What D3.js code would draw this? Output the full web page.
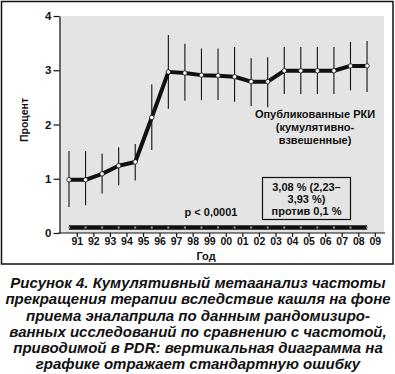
<!DOCTYPE html>
<html>
<head>
<meta charset="utf-8">
<script src="https://cdn.jsdelivr.net/npm/d3@7"></script>
<style>
  body { margin: 0; background: #fff; }
  svg { display: block; font-family: "Liberation Sans", Arial, sans-serif; }
</style>
</head>
<body>
<div id="chart"></div>
<script>
// данные
const years = ["91", "92", "93", "94", "95", "96", "97", "98", "99", "00",
  "01", "02", "03", "04", "05", "06", "07", "08", "09"];
const rctValues = [0.98, 0.98, 1.09, 1.24, 1.31, 2.13, 2.97, 2.95, 2.91, 2.90,
  2.88, 2.79, 2.79, 2.99, 2.99, 2.99, 2.99, 3.08, 3.08];
const seUpper = [1.51, 1.51, 1.46, 1.58, 1.64, 2.74, 3.65, 3.49, 3.40, 3.40,
  3.43, 3.22, 3.24, 3.43, 3.43, 3.43, 3.43, 3.52, 3.54];
const seLower = [0.48, 0.51, 0.73, 0.88, 0.97, 1.53, 2.29, 2.44, 2.45, 2.45,
  2.42, 2.34, 2.32, 2.56, 2.56, 2.56, 2.56, 2.63, 2.60];
const pdrValues = [0.1, 0.1, 0.1, 0.1, 0.1, 0.1, 0.1, 0.1, 0.1, 0.1,
  0.1, 0.1, 0.1, 0.1, 0.1, 0.1, 0.1, 0.1, 0.1];
const yTicks = [0, 1, 2, 3, 4];

const rctLabel = ["Опубликованные РКИ", "(кумулятивно-", "взвешенные)"];
const boxLabel = ["3,08 % (2,23–", "3,93 %)", "против 0,1 %"];
const pLabel = "p < 0,0001";
const caption = [
  "Рисунок 4. Кумулятивный метаанализ частоты",
  "прекращения терапии вследствие кашля на фоне",
  "приема эналаприла по данным рандомизиро-",
  "ванных исследований по сравнению с частотой,",
  "приводимой в PDR: вертикальная диаграмма на",
  "графике отражает стандартную ошибку"
];

// размеры
const W = 395, H = 374;
const plot = { left: 59.5, right: 384, top: 16, bottom: 233 };

const svg = d3.select("#chart").append("svg")
  .attr("width", W)
  .attr("height", H);

// рамка
svg.append("rect")
  .attr("x", 1.5).attr("y", 1.5)
  .attr("width", 391.5).attr("height", 262.5)
  .attr("fill", "none")
  .attr("stroke", "#111")
  .attr("stroke-width", 1.5);

// шкалы
const x = d3.scaleBand()
  .domain(years)
  .range([69, 383.6])
  .padding(0);

const y = d3.scaleLinear()
  .domain([0, 4])
  .range([plot.bottom, plot.top]);

// серый фон
svg.append("rect")
  .attr("x", plot.left)
  .attr("y", plot.top)
  .attr("width", plot.right - plot.left)
  .attr("height", plot.bottom - plot.top)
  .attr("fill", "#e4e4e4");

// ось Y
svg.append("g")
  .attr("transform", `translate(${plot.left},0)`)
  .call(d3.axisLeft(y).tickValues(yTicks).tickFormat(d3.format("d")).tickSize(6).tickSizeOuter(0))
  .call(g => g.selectAll("line, path").attr("stroke", "#111").attr("stroke-width", 1.2))
  .call(g => g.selectAll("text")
    .attr("x", -8)
    .style("font-size", "11.5px")
    .style("font-weight", "bold")
    .attr("fill", "#111"));

// ось X
svg.append("g")
  .attr("transform", `translate(0,${plot.bottom})`)
  .call(d3.axisBottom(x).tickSize(4).tickSizeOuter(0))
  .call(g => g.select(".domain").remove())
  .call(g => g.selectAll("line").attr("stroke", "#111").attr("stroke-width", 1.2))
  .call(g => g.selectAll("text")
    .attr("y", 5)
    .style("font-size", "10.5px")
    .style("font-weight", "bold")
    .attr("fill", "#111"));

svg.append("line")
  .attr("x1", plot.left - 1)
  .attr("x2", plot.right + 1)
  .attr("y1", plot.bottom)
  .attr("y2", plot.bottom)
  .attr("stroke", "#111")
  .attr("stroke-width", 1.2);

// подписи осей
svg.append("text")
  .attr("transform", `translate(24,120) rotate(-90)`)
  .attr("text-anchor", "middle")
  .attr("dy", "0.35em")
  .style("font-size", "10.5px")
  .style("font-weight", "bold")
  .attr("fill", "#111")
  .text("Процент");

svg.append("text")
  .attr("x", 206)
  .attr("y", 256)
  .attr("text-anchor", "middle")
  .attr("dy", "0.35em")
  .style("font-size", "11px")
  .style("font-weight", "bold")
  .attr("fill", "#111")
  .text("Год");

// линия PDR (0,1 %)
const pdr = years.map((yr, i) => ({ year: yr, value: pdrValues[i] }));
svg.append("path")
  .datum(pdr)
  .attr("fill", "none")
  .attr("stroke", "#111")
  .attr("stroke-width", 4.5)
  .attr("d", d3.line().x(d => x(d.year)).y(d => y(d.value)));

svg.selectAll(".pdr-dot")
  .data(pdr)
  .join("rect")
  .attr("class", "pdr-dot")
  .attr("x", d => x(d.year) - 1)
  .attr("y", d => y(d.value) - 1)
  .attr("width", 2)
  .attr("height", 2)
  .attr("fill", "#9a9a9a");

// РКИ
const rct = years.map((yr, i) => ({
  year: yr, value: rctValues[i], hi: seUpper[i], lo: seLower[i]
}));

svg.selectAll(".se")
  .data(rct)
  .join("line")
  .attr("class", "se")
  .attr("x1", d => x(d.year))
  .attr("x2", d => x(d.year))
  .attr("y1", d => y(d.lo))
  .attr("y2", d => y(d.hi))
  .attr("stroke", "#111")
  .attr("stroke-width", 1.1);

svg.append("path")
  .datum(rct)
  .attr("fill", "none")
  .attr("stroke", "#111")
  .attr("stroke-width", 4)
  .attr("stroke-linejoin", "round")
  .attr("d", d3.line().x(d => x(d.year)).y(d => y(d.value)));

svg.selectAll(".pt")
  .data(rct)
  .join("circle")
  .attr("class", "pt")
  .attr("cx", d => x(d.year))
  .attr("cy", d => y(d.value))
  .attr("r", 2.2)
  .attr("fill", "#fff")
  .attr("stroke", "#111")
  .attr("stroke-width", 0.8);

// аннотации
svg.append("g")
  .selectAll("text")
  .data(rctLabel)
  .join("text")
  .attr("x", 315)
  .attr("y", (d, i) => 114 + i * 13)
  .attr("dy", "0.35em")
  .attr("text-anchor", "middle")
  .style("font-size", "11px")
  .style("font-weight", "bold")
  .attr("fill", "#111")
  .text(d => d);

svg.append("rect")
  .attr("x", 262.5)
  .attr("y", 177.5)
  .attr("width", 88)
  .attr("height", 42)
  .attr("fill", "none")
  .attr("stroke", "#111")
  .attr("stroke-width", 1.2);

svg.append("g")
  .selectAll("text")
  .data(boxLabel)
  .join("text")
  .attr("x", 306.5)
  .attr("y", (d, i) => 187 + i * 12)
  .attr("dy", "0.35em")
  .attr("text-anchor", "middle")
  .style("font-size", "11px")
  .style("font-weight", "bold")
  .attr("fill", "#111")
  .text(d => d);

svg.append("text")
  .attr("x", 211)
  .attr("y", 212)
  .attr("dy", "0.35em")
  .attr("text-anchor", "middle")
  .style("font-size", "11px")
  .style("font-weight", "bold")
  .attr("fill", "#111")
  .text(pLabel);

// подпись к рисунку
svg.append("g")
  .selectAll("text")
  .data(caption)
  .join("text")
  .attr("x", 198)
  .attr("y", (d, i) => 283 + i * 16.2)
  .attr("dy", "0.35em")
  .attr("text-anchor", "middle")
  .style("font-size", "15px")
  .style("font-weight", "bold")
  .style("font-style", "italic")
  .attr("fill", "#111")
  .text(d => d);
</script>
</body>
</html>
